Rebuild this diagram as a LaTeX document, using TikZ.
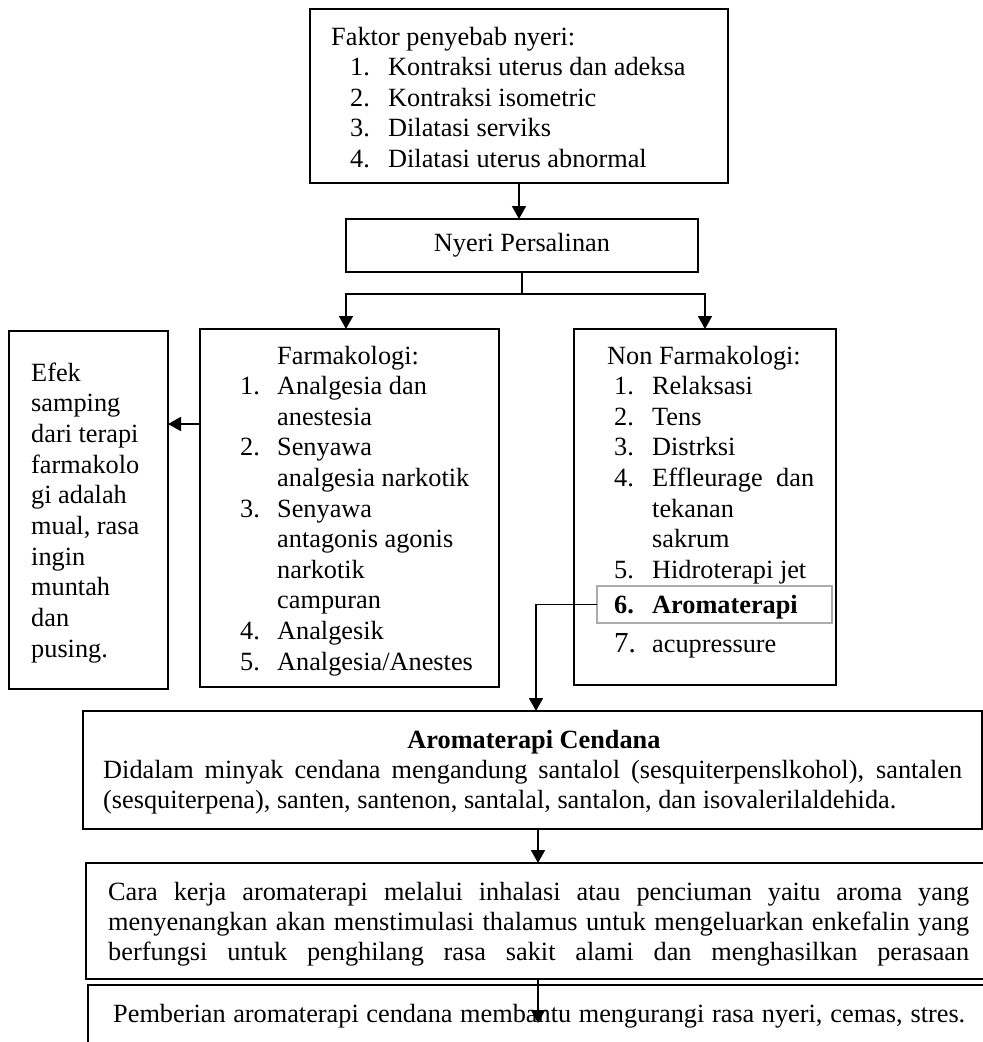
\documentclass[tikz,border=0pt]{standalone}
\usepackage{fontspec}
\setmainfont{Liberation Serif}
\usetikzlibrary{arrows.meta}
\newcommand{\fsz}{\fontsize{26.3}{30.6}\selectfont}
\begin{document}
\begin{tikzpicture}[x=1pt,y=-1pt,
  box/.style={draw, line width=2.2pt, anchor=north west, inner sep=0pt, outer sep=0pt},
  txt/.style={anchor=base west, inner sep=0pt, font=\fsz},
  ctxt/.style={anchor=base, inner sep=0pt, font=\fsz},
  conn/.style={line width=1.8pt},
  arr/.style={conn, -{Triangle[length=13pt,width=14pt]}}]
\path[use as bounding box, clip] (0,0) rectangle (983,1042);
\fill[white] (0,0) rectangle (983,1042);

% boxes
\node[box, minimum width=418pt, minimum height=174pt] (top) at (310,9) {};
\node[box, minimum width=352pt, minimum height=53pt, font=\fsz] (nyeri) at (346,219) {Nyeri Persalinan};
\node[box, minimum width=159pt, minimum height=358pt] (efek) at (9,331) {};
\node[box, minimum width=299pt, minimum height=358pt] (farm) at (200,329) {};
\node[box, minimum width=262pt, minimum height=356pt] (non) at (574,329) {};
\node[box, draw=gray!65, line width=1.6pt, minimum width=235pt, minimum height=37pt] (hl) at (597,586) {};
\node[box, minimum width=899pt, minimum height=118pt] (cend) at (83,711) {};
\node[box, minimum width=910pt, minimum height=116pt] (b3) at (86,863) {};
\node[box, minimum width=910pt, minimum height=90pt] (b4) at (88,985) {};

% top box text
\node[txt] (f0) at (331,45) {Faktor penyebab nyeri:};
\node[txt] (f1) at (350,75.6) {\makebox[38pt][l]{1.}Kontraksi uterus dan adeksa};
\node[txt] (f2) at (350,106.2) {\makebox[38pt][l]{2.}Kontraksi isometric};
\node[txt] (f3) at (350,136.8) {\makebox[38pt][l]{3.}Dilatasi serviks};
\node[txt] (f4) at (350,167.4) {\makebox[38pt][l]{4.}Dilatasi uterus abnormal};

% efek text
\node[txt] (e1) at (31,381) {Efek};
\node[txt] (e2) at (31,411.7) {samping};
\node[txt] (e3) at (31,442.3) {dari terapi};
\node[txt] (e4) at (31,473) {farmakolo};
\node[txt] (e5) at (31,503.7) {gi adalah};
\node[txt] (e6) at (31,534.3) {mual, rasa};
\node[txt] (e7) at (31,565) {ingin};
\node[txt] (e8) at (31,595.7) {muntah};
\node[txt] (e9) at (31,626.3) {dan};
\node[txt] (e10) at (31,657) {pusing.};

% farmakologi text
\node[txt] (a0) at (277,364) {Farmakologi:};
\node[txt] (a1) at (240,394.6) {\makebox[37pt][l]{1.}Analgesia dan};
\node[txt] (a1b) at (277,425.2) {anestesia};
\node[txt] (a2) at (240,455.8) {\makebox[37pt][l]{2.}Senyawa};
\node[txt] (a2b) at (277,486.4) {analgesia narkotik};
\node[txt] (a3) at (240,517) {\makebox[37pt][l]{3.}Senyawa};
\node[txt] (a3b) at (277,547.6) {antagonis agonis};
\node[txt] (a3c) at (277,578.2) {narkotik};
\node[txt] (a3d) at (277,608.8) {campuran};
\node[txt] (a4) at (240,639.4) {\makebox[37pt][l]{4.}Analgesik};
\node[txt] (a5) at (240,670) {\makebox[37pt][l]{5.}Analgesia/Anestes};

% non farmakologi text
\node[txt] (n0) at (607,364) {Non Farmakologi:};
\node[txt] (n1) at (614,394.6) {\makebox[38pt][l]{1.}Relaksasi};
\node[txt] (n2) at (614,425.2) {\makebox[38pt][l]{2.}Tens};
\node[txt] (n3) at (614,455.8) {\makebox[38pt][l]{3.}Distrksi};
\node[txt] (n4) at (614,486.4) {\makebox[38pt][l]{4.}\makebox[162pt][s]{Effleurage dan}};
\node[txt] (n4b) at (652,517) {tekanan};
\node[txt] (n4c) at (652,547.6) {sakrum};
\node[txt] (n5) at (614,578.2) {\makebox[38pt][l]{5.}Hidroterapi jet};
\node[txt, font=\fsz\bfseries] (n6) at (614,613) {\makebox[38pt][l]{6.}Aromaterapi};
\node[txt] (n7) at (614,652) {\makebox[38pt][l]{\fontsize{29}{30}\selectfont 7.}acupressure};

% cendana text
\node[ctxt, font=\fsz\bfseries] (c0) at (534,748) {Aromaterapi Cendana};
\node[txt] (c1) at (103,778) {\makebox[859pt][s]{Didalam minyak cendana mengandung santalol (sesquiterpenslkohol), santalen}};
\node[txt] (c2) at (103,808) {(sesquiterpena), santen, santenon, santalal, santalon, dan isovalerilaldehida.};

% box 3 text
\node[txt] (d1) at (108,900) {\makebox[861pt][s]{Cara kerja aromaterapi melalui inhalasi atau penciuman yaitu aroma yang}};
\node[txt] (d2) at (108,930) {\makebox[861pt][s]{menyenangkan akan menstimulasi thalamus untuk mengeluarkan enkefalin yang}};
\node[txt] (d3) at (108,960) {\makebox[861pt][s]{berfungsi untuk penghilang rasa sakit alami dan menghasilkan perasaan}};

% box 4 text
\node[txt] (g1) at (113,1022) {\makebox[852pt][s]{Pemberian aromaterapi cendana membantu mengurangi rasa nyeri, cemas, stres.}};

% connectors
\coordinate (j) at (522,294);
\coordinate (fy) at (0,424);
\coordinate (cx) at (536,0);
\coordinate (ax) at (538,0);
\coordinate (aend) at (538,1023);
\draw[arr] (top.south) -- (top.south |- nyeri.north);
\draw[conn] (nyeri.south) -- (j);
\draw[arr] (j) -| ([xshift=-3.5pt]farm.north);
\draw[arr] (j) -| (non.north);
\draw[arr] (farm.west |- fy) -- (efek.east |- fy);
\draw[arr] (hl.west) -| (cx |- cend.north);
\draw[arr] (ax |- cend.south) -- (ax |- b3.north);
\draw[arr] (ax |- b3.south) -- (aend);
\end{tikzpicture}
\end{document}
